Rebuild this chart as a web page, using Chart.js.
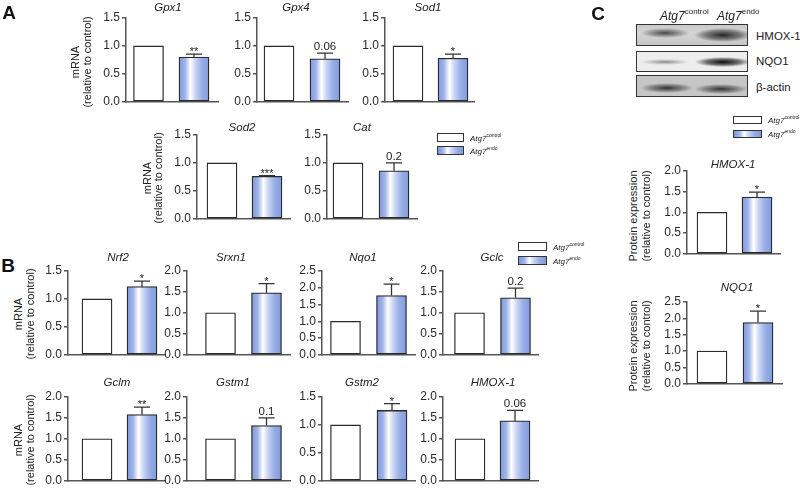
<!DOCTYPE html>
<html>
<head>
<meta charset="utf-8">
<script src="https://cdn.jsdelivr.net/npm/chart.js@4.4.1/dist/chart.umd.min.js"></script>
<style>
  html, body { margin: 0; padding: 0; background: #ffffff; }
  #root { position: relative; width: 800px; height: 490px; overflow: hidden; font-family: "Liberation Sans", Arial, sans-serif; color: #222; }
  canvas { position: absolute; }
  .t { position: absolute; line-height: 1; white-space: nowrap; transform: translate(-50%, -50%); }
  .tl { position: absolute; line-height: 1; white-space: nowrap; transform: translate(0, -50%); }
  .rot { position: absolute; width: 130px; height: 12px; line-height: 12px; text-align: center; white-space: nowrap; transform-origin: 0 0; transform: rotate(-90deg); font-size: 11px; color: #222; }
  .letter { font-weight: bold; font-size: 19px; color: #111; }
  .title { font-style: italic; font-size: 11.5px; }
  .box { position: absolute; box-sizing: border-box; border: 1px solid #333; }
  .endo { background: linear-gradient(to right, #7d99dc 0%, #9fb3e7 20%, #ffffff 38%, #c9d4f3 55%, #98ade5 76%, #7f9bdd 100%); }
  .ctrl { background: #ffffff; }
  .lg { font-size: 8px; font-style: italic; }
  .lg sup { font-size: 5px; font-style: normal; vertical-align: 4px; }
  .blot { position: absolute; box-sizing: border-box; border: 1.3px solid #333; overflow: hidden; }
  .hdr { font-size: 12px; font-style: italic; }
  .hdr sup { font-size: 8px; font-style: normal; vertical-align: 6px; }
  .bl { font-size: 11.5px; }
</style>
</head>
<body>
<div id="root"></div>
<script>
// ---------------- DATA ----------------
const genes = ['Gpx1', 'Gpx4', 'Sod1', 'Sod2', 'Cat', 'Nrf2', 'Srxn1', 'Nqo1', 'Gclc', 'Gclm', 'Gstm1', 'Gstm2', 'HMOX-1'];
const controlValues = [1, 1, 1, 1, 1, 1, 1, 1, 1, 1, 1, 1, 1];
const endoValues = [0.80, 0.77, 0.78, 0.76, 0.86, 1.22, 1.48, 1.77, 1.36, 1.58, 1.32, 1.26, 1.43];
const endoSem = [0.055, 0.10, 0.075, 0.012, 0.14, 0.10, 0.22, 0.34, 0.23, 0.18, 0.18, 0.12, 0.25];
const pLabels = ['**', '0.06', '*', '***', '0.2', '*', '*', '*', '0.2', '**', '0.1', '*', '0.06'];
const yMaxes = [1.5, 1.5, 1.5, 1.5, 1.5, 1.5, 2.0, 2.5, 2.0, 2.0, 2.0, 1.5, 2.0];

const proteins = ['HMOX-1', 'NQO1'];
const proteinControl = [1, 1];
const proteinEndo = [1.37, 1.87];
const proteinSem = [0.12, 0.35];
const proteinP = ['*', '*'];
const proteinYMax = [2.0, 2.5];

const groupNames = ['control', 'endo'];   // Atg7 superscripts
const yTickStep = 0.5;

// ---------------- LAYOUT (pixels) ----------------
// [axisX, controlCenter, endoCenter, axisEnd, topY, bottomY, titleX, titleY]
const geneLayout = [
  [126, 148.5, 194, 218, 18, 108, 168, 8],
  [257, 279, 325, 348, 18, 108, 296, 8],
  [385, 408, 453, 474, 18, 108, 428, 8],
  [197, 222, 267, 290, 135, 225, 242, 128],
  [327, 348, 394, 417, 135, 225, 362, 128],
  [68, 97, 142, 165, 271, 361, 118, 258],
  [187, 220.5, 266.5, 290, 271, 361, 231, 258],
  [322, 345.5, 391.5, 415, 271, 361, 363, 258],
  [443, 469.5, 515.5, 538, 271, 361, 492, 258],
  [68, 97, 142, 165, 397, 487, 117, 383],
  [187, 220.5, 266.5, 290, 397, 487, 233, 383],
  [322, 345.5, 392, 415, 397, 487, 362, 383],
  [443, 470, 515, 538, 397, 487, 493, 383]
];
const proteinLayout = [
  [687, 712, 757, 780, 171, 260, 733, 165],
  [687, 712, 758, 782, 302, 390, 737, 288]
];

const root = document.getElementById('root');
const FONT = '"Liberation Sans", Arial, sans-serif';
const AXIS = '#555555';

function addText(html, x, y, cls, left) {
  const d = document.createElement('div');
  d.className = (left ? 'tl ' : 't ') + (cls || '');
  d.style.left = x + 'px';
  d.style.top = y + 'px';
  d.innerHTML = html;
  root.appendChild(d);
  return d;
}
// rotated axis title centred at (x, y); box 130 x 12 rotated about its top-left corner
function addRot(text, x, y) {
  const d = document.createElement('div');
  d.className = 'rot';
  d.style.left = (x - 6) + 'px';
  d.style.top = (y + 65) + 'px';
  d.textContent = text;
  root.appendChild(d);
}

function endoFill(c) {
  const ch = c.chart;
  const xs = ch.scales && ch.scales.x;
  if (!ch.chartArea || !xs) return '#8aa3e2';
  const cx = xs.getPixelForValue(1);
  const g = ch.ctx.createLinearGradient(cx - 15, 0, cx + 15, 0);
  g.addColorStop(0, '#7d99dc');
  g.addColorStop(0.2, '#9fb3e7');
  g.addColorStop(0.38, '#ffffff');
  g.addColorStop(0.55, '#c9d4f3');
  g.addColorStop(0.76, '#98ade5');
  g.addColorStop(1, '#7f9bdd');
  return g;
}

const errPlugin = {
  id: 'errbar',
  afterDatasetsDraw(chart, args, o) {
    const xs = chart.scales.x, ys = chart.scales.y, ctx = chart.ctx;
    const cx = xs.getPixelForValue(1);
    const y0 = ys.getPixelForValue(o.value);
    const y1 = ys.getPixelForValue(o.value + o.sem);
    ctx.save();
    ctx.strokeStyle = '#333';
    ctx.lineWidth = 1.3;
    ctx.beginPath();
    ctx.moveTo(cx, y0);
    ctx.lineTo(cx, y1);
    ctx.moveTo(cx - 8, y1);
    ctx.lineTo(cx + 8, y1);
    ctx.stroke();
    ctx.fillStyle = '#222';
    ctx.textAlign = 'center';
    ctx.textBaseline = 'alphabetic';
    if (o.label.indexOf('*') >= 0) {
      ctx.font = '11px ' + FONT;
      ctx.fillText(o.label, cx, y1 + 1);
    } else {
      ctx.font = '11.5px ' + FONT;
      ctx.fillText(o.label, cx, y1 - 3);
    }
    ctx.restore();
  }
};

function makeChart(title, ctrl, endo, sem, p, ymax, L) {
  const [ax, wc, bc, ae, ty, by, tx, tyy] = L;
  const padTop = 16, yw = 40, padR = 3, padB = 3;
  const left = ax - yw, top = ty - padTop;
  const W = Math.round(ae - left + padR), H = Math.round(by - top + padB);
  const cv = document.createElement('canvas');
  cv.width = W; cv.height = H;
  cv.style.left = left + 'px'; cv.style.top = top + 'px';
  cv.style.width = W + 'px'; cv.style.height = H + 'px';
  root.appendChild(cv);
  const s = bc - wc;
  const xmin = -(wc - ax) / s, xmax = 1 + (ae - bc) / s;

  new Chart(cv, {
    type: 'bar',
    data: {
      datasets: [{
        data: [{ x: 0, y: ctrl }, { x: 1, y: endo }],
        backgroundColor: (c) => c.dataIndex === 0 ? '#ffffff' : endoFill(c),
        borderColor: '#2a2a2a',
        borderWidth: 1.3,
        barThickness: 30,
        borderSkipped: false
      }]
    },
    options: {
      responsive: false,
      animation: false,
      devicePixelRatio: 1,
      layout: { padding: { top: padTop, right: W - yw - (ae - ax), bottom: padB, left: 0 } },
      plugins: {
        legend: { display: false },
        tooltip: { enabled: false },
        title: { display: false },
        errbar: { value: endo, sem: sem, label: p }
      },
      scales: {
        x: {
          type: 'linear', min: xmin, max: xmax, offset: false,
          ticks: { display: false },
          grid: { display: false, drawTicks: false },
          border: { display: true, color: AXIS, width: 1.5 },
          afterFit(sc) { sc.height = 0; }
        },
        y: {
          type: 'linear', min: 0, max: ymax,
          ticks: { stepSize: yTickStep, callback: (v) => Number(v).toFixed(1), font: { family: FONT, size: 12 }, color: '#2a2a2a', padding: 2 },
          grid: { display: true, drawOnChartArea: false, drawTicks: true, tickLength: 4, color: AXIS, lineWidth: 1.5 },
          border: { display: true, color: AXIS, width: 1.5 },
          afterFit(sc) { sc.width = yw; }
        }
      }
    },
    plugins: [errPlugin]
  });
  addText(title, tx, tyy, 'title');
}

// ---------------- charts ----------------
genes.forEach((g, i) => makeChart(g, controlValues[i], endoValues[i], endoSem[i], pLabels[i], yMaxes[i], geneLayout[i]));
proteins.forEach((g, i) => makeChart(g, proteinControl[i], proteinEndo[i], proteinSem[i], proteinP[i], proteinYMax[i], proteinLayout[i]));

// ---------------- panel letters ----------------
addText('A', 9, 12, 'letter');
addText('B', 8, 265, 'letter');
addText('C', 598, 13, 'letter');

// ---------------- axis titles ----------------
addRot('mRNA', 75, 62); addRot('(relative to control)', 87, 62);
addRot('mRNA', 147, 178); addRot('(relative to control)', 158, 178);
addRot('mRNA', 18, 314); addRot('(relative to control)', 30, 314);
addRot('mRNA', 18, 440); addRot('(relative to control)', 30, 440);
addRot('Protein expression', 633, 216); addRot('(relative to control)', 646, 216);
addRot('Protein expression', 633, 346); addRot('(relative to control)', 646, 346);

// ---------------- legends ----------------
function legend(x, y1, y2, w, h, tx) {
  const b1 = document.createElement('div'); b1.className = 'box ctrl';
  b1.style.cssText = `left:${x}px;top:${y1}px;width:${w}px;height:${h}px;`;
  const b2 = document.createElement('div'); b2.className = 'box endo';
  b2.style.cssText = `left:${x}px;top:${y2}px;width:${w}px;height:${h}px;`;
  root.appendChild(b1); root.appendChild(b2);
  addText('Atg7<sup>' + groupNames[0] + '</sup>', tx, y1 + h / 2, 'lg', true);
  addText('Atg7<sup>' + groupNames[1] + '</sup>', tx, y2 + h / 2, 'lg', true);
}
legend(437, 133, 146, 27, 9, 470);
legend(518, 242, 256, 29, 9, 553);
legend(733, 116, 130, 29, 8, 768);

// ---------------- western blot (image panel) ----------------
function blot(top, h, bg, bands) {
  const d = document.createElement('div');
  d.className = 'blot';
  d.style.left = '636px'; d.style.top = top + 'px';
  d.style.width = '112px'; d.style.height = h + 'px';
  d.style.background = bands.join(',') + ',' + bg;
  root.appendChild(d);
}
blot(24, 22, '#d6d6d6', [
  'radial-gradient(ellipse 25px 5px at 28px 8px, rgba(45,45,45,0.85), rgba(45,45,45,0.35) 60%, rgba(45,45,45,0) 100%)',
  'radial-gradient(ellipse 29px 7px at 86px 10px, rgba(30,30,30,0.95), rgba(30,30,30,0.5) 60%, rgba(30,30,30,0) 100%)',
  'linear-gradient(to bottom, rgba(0,0,0,0.06), rgba(0,0,0,0) 40%, rgba(0,0,0,0.08))'
]);
blot(51, 21, '#ededed', [
  'radial-gradient(ellipse 25px 3px at 28px 10px, rgba(70,70,70,0.6), rgba(70,70,70,0.2) 60%, rgba(70,70,70,0) 100%)',
  'radial-gradient(ellipse 28px 5px at 86px 10px, rgba(10,10,10,1), rgba(10,10,10,0.55) 60%, rgba(10,10,10,0) 100%)'
]);
blot(75, 22, '#c6c6c6', [
  'radial-gradient(ellipse 27px 5px at 30px 12px, rgba(35,35,35,0.9), rgba(35,35,35,0.4) 60%, rgba(35,35,35,0) 100%)',
  'radial-gradient(ellipse 27px 5px at 84px 13px, rgba(35,35,35,0.9), rgba(35,35,35,0.4) 60%, rgba(35,35,35,0) 100%)'
]);
addText('Atg7<sup>' + groupNames[0] + '</sup>', 660, 15, 'hdr', true);
addText('Atg7<sup>' + groupNames[1] + '</sup>', 717, 15, 'hdr', true);
addText('HMOX-1', 756, 37, 'bl', true);
addText('NQO1', 756, 62, 'bl', true);
addText('β-actin', 756, 88, 'bl', true);
</script>
</body>
</html>
